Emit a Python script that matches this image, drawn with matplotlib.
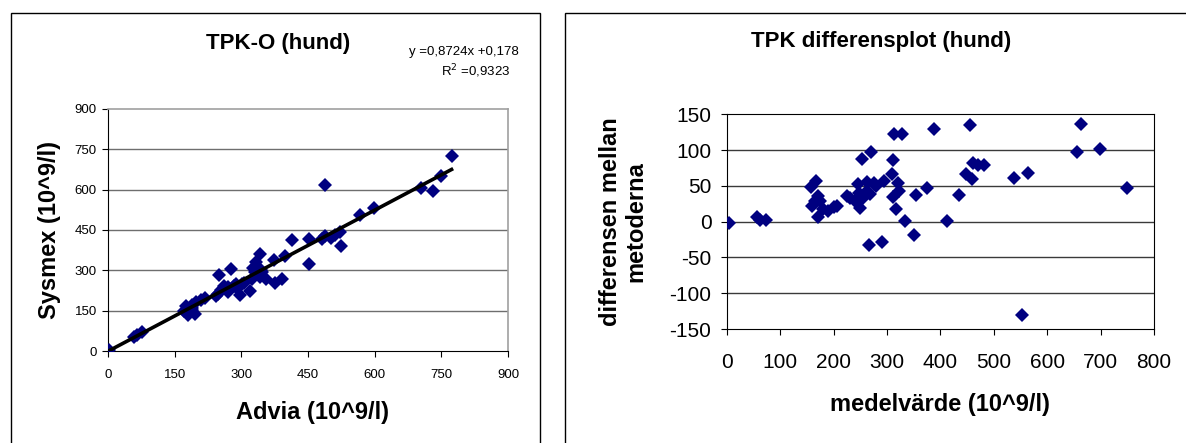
import matplotlib
matplotlib.use('Agg')
import matplotlib.pyplot as plt
from matplotlib.patches import Rectangle

plt.rcParams['font.family'] = ['Liberation Sans', 'DejaVu Sans']
plt.rcParams['axes.unicode_minus'] = False

# TPK-O: Advia vs Sysmex (10^9/l)
advia = [3, 59, 65, 76, 181, 196, 170, 180, 190, 190, 175, 210, 198, 218, 243,
         255, 260, 271, 290, 302, 284, 287, 269, 324, 342, 355, 330, 326, 297,
         320, 375, 391, 453, 524, 347, 344, 334, 342, 399, 374, 413, 453, 481,
         489, 502, 510, 521, 568, 599, 488, 704, 732, 750, 773, 250, 276, 188,
         247, 267, 305]
sysmex = [5, 53, 62, 73, 133, 139, 148, 151, 161, 172, 168, 190, 183, 196, 207,
          226, 241, 219, 235, 248, 241, 249, 238, 267, 276, 269, 295, 308, 210,
          222, 252, 268, 324, 389, 293, 301, 333, 361, 352, 337, 412, 416, 415,
          429, 420, 431, 442, 507, 531, 618, 606, 595, 649, 726, 283, 304, 152,
          214, 227, 255]

# differensplot: medelvärde vs differens
medel = [4, 56, 63, 74, 157, 167, 159, 165, 175, 181, 171, 200, 190, 207, 225,
         240, 250, 245, 262, 275, 262, 268, 253, 295, 309, 312, 312, 317, 253,
         271, 313, 329, 388, 456, 320, 322, 333, 351, 375, 355, 412, 434, 448,
         459, 461, 470, 481, 537, 565, 553, 655, 663, 699, 749, 266, 290, 170,
         230, 247, 280]
diff = [-2, 6, 3, 3, 48, 57, 22, 29, 29, 18, 7, 20, 15, 22, 36,
        29, 19, 52, 55, 54, 43, 38, 31, 57, 66, 86, 35, 18, 87,
        98, 123, 123, 129, 135, 54, 43, 1, -19, 47, 37, 1, 37, 66,
        60, 82, 79, 79, 61, 68, -130, 98, 137, 101, 47, -33, -28, 36,
        33, 40, 50]

slope, intercept = 0.8724, 0.178
left_ticks = [0, 150, 300, 450, 600, 750, 900]
right_xticks = [0, 100, 200, 300, 400, 500, 600, 700, 800]
right_yticks = [-150, -100, -50, 0, 50, 100, 150]

navy = '#000080'

fig = plt.figure(figsize=(11.86, 4.43), dpi=100)

# chart area frames
fig.patches.append(Rectangle((10.5 / 1186, -0.1), (540 - 10.5) / 1186, 1.1 - 13.3 / 443,
                             transform=fig.transFigure, fill=False, ec='black', lw=1))
fig.patches.append(Rectangle((565 / 1186, -0.1), 0.6, 1.1 - 13.3 / 443,
                             transform=fig.transFigure, fill=False, ec='black', lw=1))

# left chart
ax1 = fig.add_axes([108 / 1186, 1 - 351.3 / 443, 400 / 1186, 242.6 / 443])
ax1.plot(advia, sysmex, 'D', color=navy, markersize=7, markeredgewidth=0, zorder=3)
xl = [min(advia), max(advia)]
ax1.plot(xl, [slope * v + intercept for v in xl], color='black', lw=2.6, zorder=4)
ax1.set_xlim(0, 900)
ax1.set_ylim(0, 900)
ax1.set_xticks(left_ticks)
ax1.set_yticks(left_ticks)
ax1.tick_params(axis='both', labelsize=9.5, length=4, width=0.8, direction='out')
ax1.tick_params(axis='y', pad=4)
ax1.tick_params(axis='x', pad=9)
for v in left_ticks[1:-1]:
    ax1.axhline(v, color='#6e6e6e', lw=1, zorder=1)
ax1.spines['top'].set_color('#a0a0a0')
ax1.spines['right'].set_color('#a0a0a0')
ax1.spines['top'].set_linewidth(1.2)
ax1.spines['right'].set_linewidth(1.2)

fig.text(277.7 / 1186, 1 - 43.3 / 443, 'TPK-O (hund)', ha='center', va='center',
         fontsize=16, fontweight='bold')
fig.text(464 / 1186, 1 - 52 / 443, 'y =0,8724x +0,178', ha='center', va='center', fontsize=9.5)
fig.text(476 / 1186, 1 - 71 / 443, 'R$^2$ =0,9323', ha='center', va='center', fontsize=9.5)
fig.text(50 / 1186, 1 - 230 / 443, 'Sysmex (10^9/l)', ha='center', va='center',
         rotation=90, fontsize=17, fontweight='bold')
fig.text(312 / 1186, 1 - 413 / 443, 'Advia (10^9/l)', ha='center', va='center',
         fontsize=17, fontweight='bold')

# right chart
ax2 = fig.add_axes([726.7 / 1186, 1 - 329 / 443, 427.3 / 1186, 214.7 / 443])
ax2.plot(medel, diff, 'D', color=navy, markersize=7, markeredgewidth=0, zorder=3)
ax2.set_xlim(0, 800)
ax2.set_ylim(-150, 150)
ax2.set_xticks(right_xticks)
ax2.set_yticks(right_yticks)
ax2.tick_params(axis='both', labelsize=15, length=4, width=0.8, direction='out')
ax2.tick_params(axis='y', pad=7)
ax2.tick_params(axis='x', pad=13)
for v in right_yticks[1:-1]:
    ax2.axhline(v, color='#3a3a3a', lw=1, zorder=1)

fig.text(881 / 1186, 1 - 41.7 / 443, 'TPK differensplot (hund)', ha='center', va='center',
         fontsize=16, fontweight='bold')
fig.text(623 / 1186, 1 - 222 / 443, 'differensen mellan\nmetoderna', ha='center', va='center',
         rotation=90, fontsize=17, fontweight='bold', multialignment='center', linespacing=1.1)
fig.text(940 / 1186, 1 - 404 / 443, 'medelvärde (10^9/l)', ha='center', va='center',
         fontsize=17, fontweight='bold')

fig.savefig('out.png', dpi=100)
